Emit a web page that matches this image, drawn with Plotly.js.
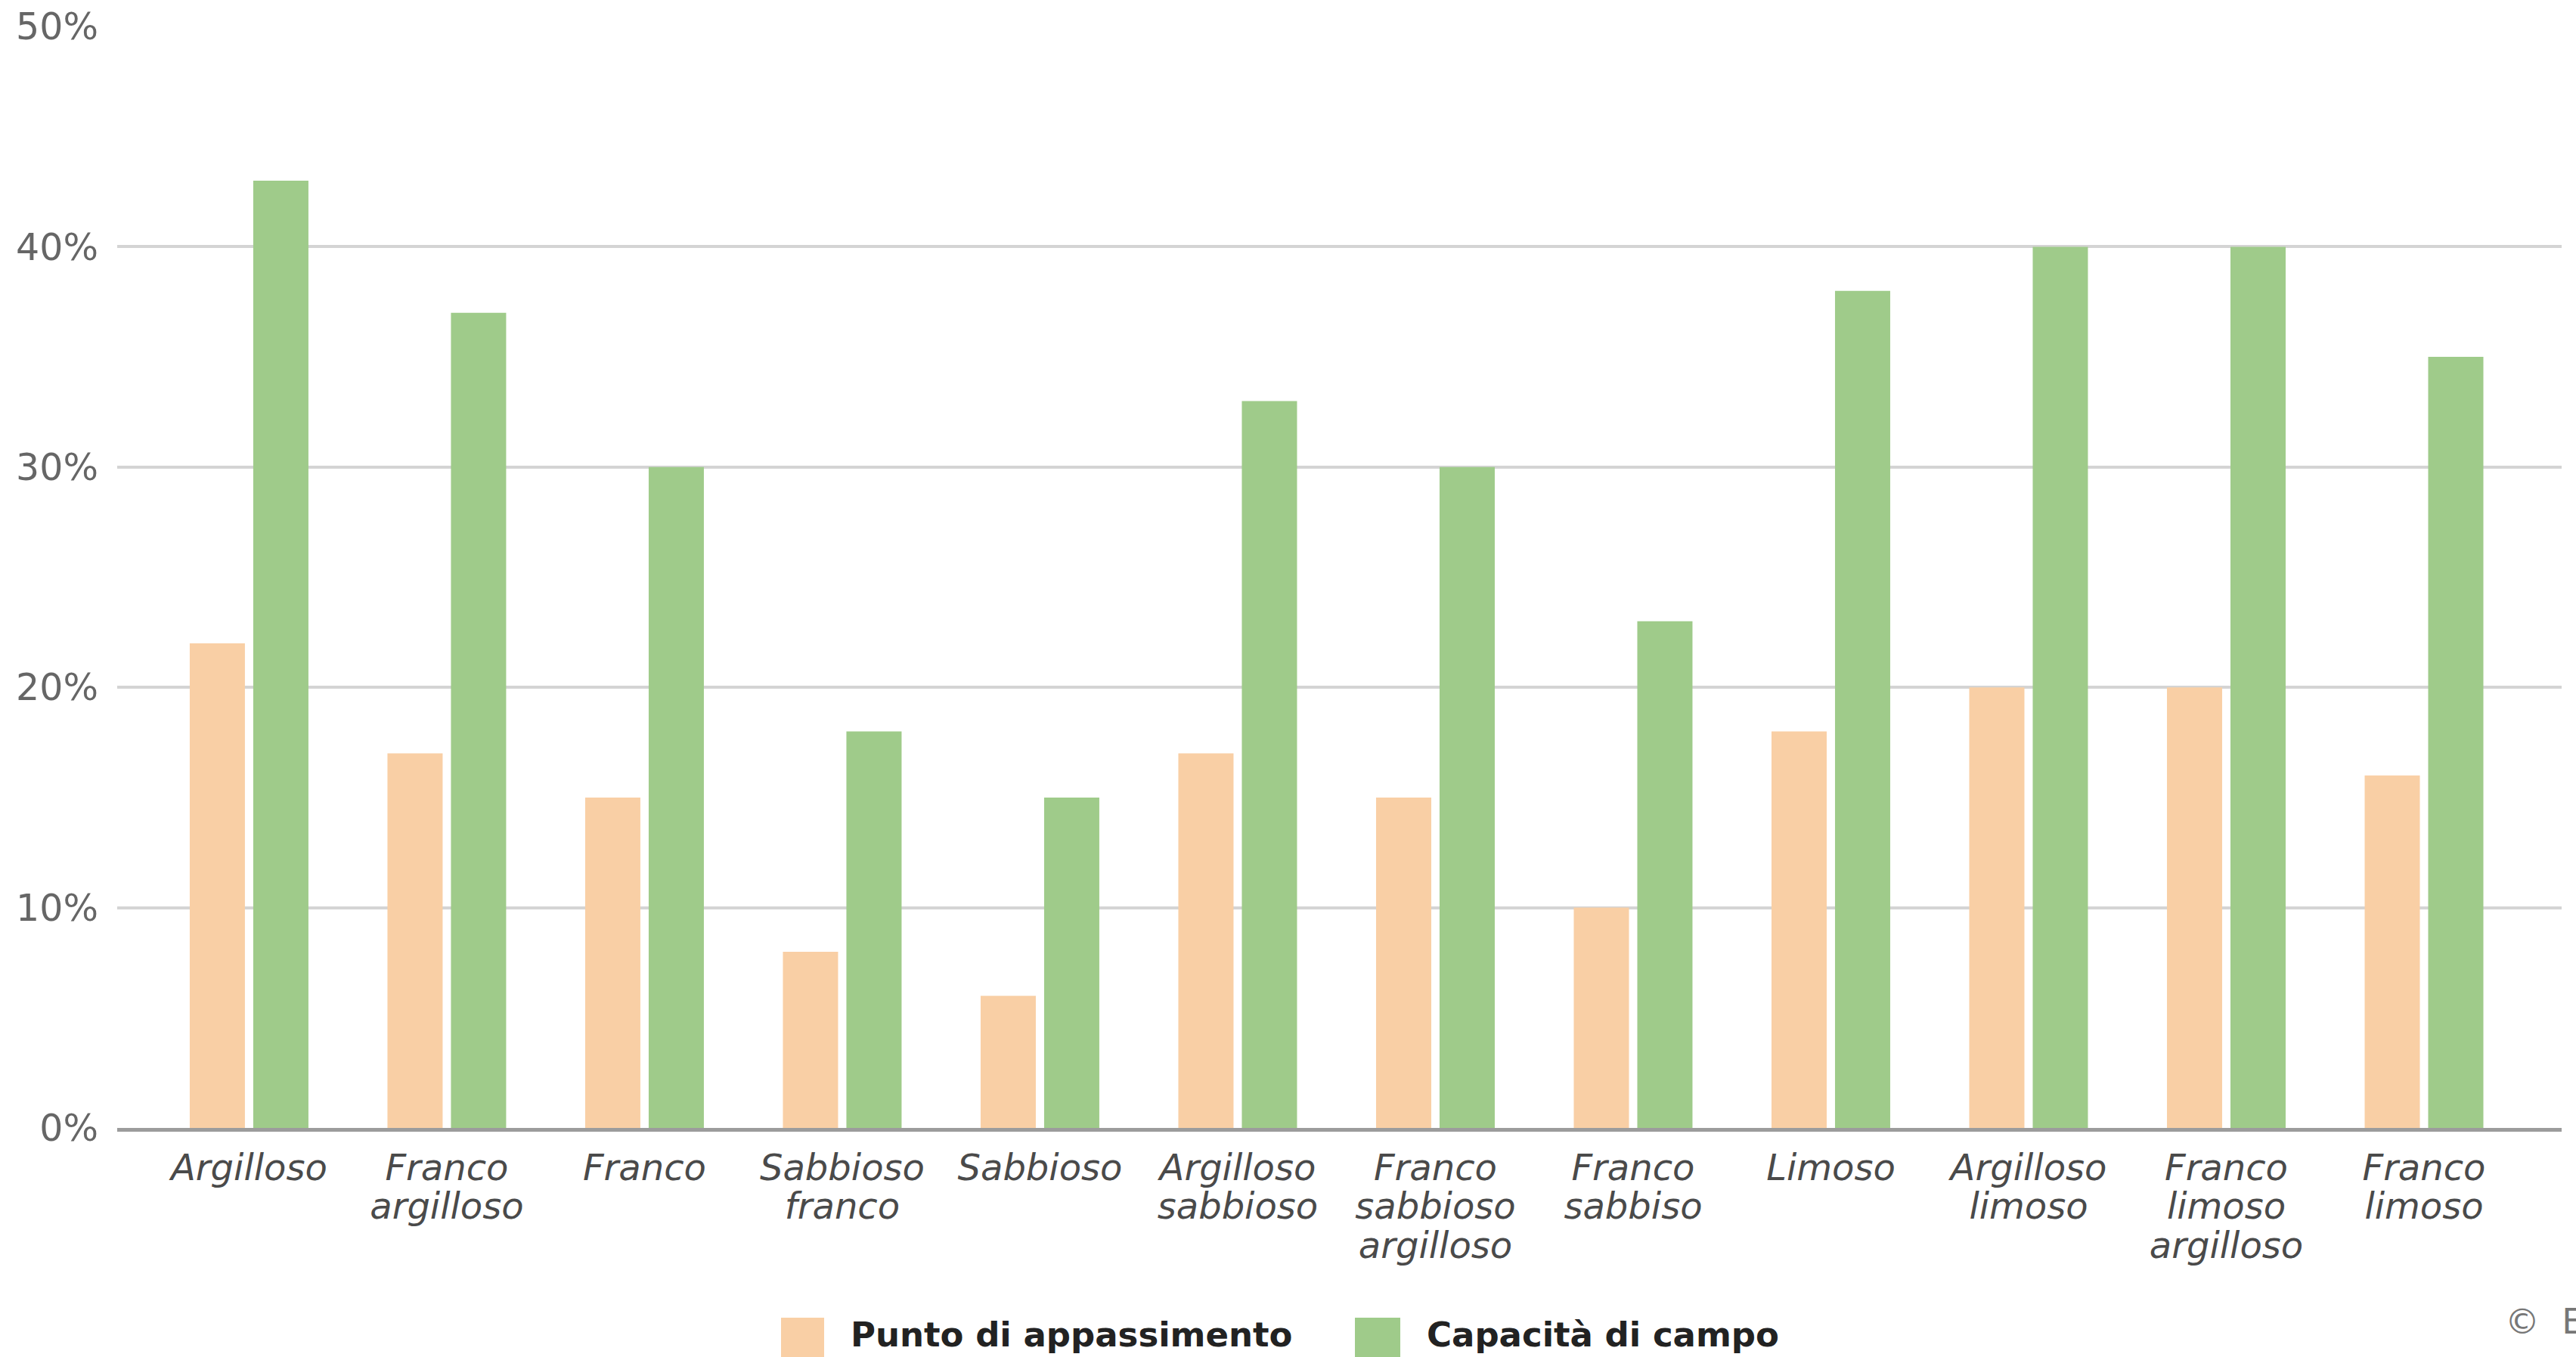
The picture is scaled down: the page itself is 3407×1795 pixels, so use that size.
<!DOCTYPE html>
<html>
<head>
<meta charset="utf-8">
<script src="https://cdn.plot.ly/plotly-3.0.1.min.js"></script>
<style>
  html, body { margin: 0; padding: 0; background: #ffffff; }
  #chart { width: 3407px; height: 1795px; }
</style>
</head>
<body>
<div id="chart"></div>
<script>
// Soil textures (water content, % by volume)
const categories = [
  'Argilloso', 'Franco argilloso', 'Franco', 'Sabbioso franco', 'Sabbioso',
  'Argilloso sabbioso', 'Franco sabbioso argilloso', 'Franco sabbiso', 'Limoso',
  'Argilloso limoso', 'Franco limoso argilloso', 'Franco limoso'
];
const tickLabels = [
  'Argilloso', 'Franco<br>argilloso', 'Franco', 'Sabbioso<br>franco', 'Sabbioso',
  'Argilloso<br>sabbioso', 'Franco<br>sabbioso<br>argilloso', 'Franco<br>sabbiso', 'Limoso',
  'Argilloso<br>limoso', 'Franco<br>limoso<br>argilloso', 'Franco<br>limoso'
];
const puntoAppassimento = [22, 17, 15, 8, 6, 17, 15, 10, 18, 20, 20, 16];
const capacitaCampo     = [43, 37, 30, 18, 15, 33, 30, 23, 38, 40, 40, 35];
const seriesNames = ['Punto di appassimento', 'Capacità di campo'];
const seriesColors = ['#f9cfa5', '#9fcb8a'];
const yTicks = [0, 10, 20, 30, 40, 50];

// page geometry (px)
const W = 3407, H = 1795;
const M = { l: 155, r: 19, t: 35, b: 303 };
const plotW = W - M.l - M.r, plotH = H - M.t - M.b;
const px = x => (x - M.l) / plotW;          // page x -> paper x
const py = y => (H - M.b - y) / plotH;      // page y -> paper y

const FONT = '"DejaVu Sans", Verdana, sans-serif';

const traces = [puntoAppassimento, capacitaCampo].map((vals, i) => ({
  type: 'bar',
  name: seriesNames[i],
  x: categories,
  y: vals,
  marker: { color: seriesColors[i], line: { width: 0 } },
  hoverinfo: 'skip'
}));

// legend drawn as swatches + labels under the chart
const legendItems = [
  { swatch: [1033, 1090], textX: 1123 },
  { swatch: [1792, 1852], textX: 1885 }
];
const shapes = legendItems.map((it, i) => ({
  type: 'rect', xref: 'paper', yref: 'paper',
  x0: px(it.swatch[0]), x1: px(it.swatch[1]),
  y0: py(1743), y1: py(1805),
  fillcolor: seriesColors[i], line: { width: 0 }
}));
const annotations = legendItems.map((it, i) => ({
  xref: 'paper', yref: 'paper',
  x: px(it.textX), y: py(1765),
  xanchor: 'left', yanchor: 'middle',
  text: '<b>' + seriesNames[i] + '</b>',
  showarrow: false,
  font: { family: FONT, size: 45, color: '#222222' }
}));
annotations.push({
  xref: 'paper', yref: 'paper',
  x: px(3311), y: py(1748),
  xanchor: 'left', yanchor: 'middle',
  text: '©\u00a0\u00a0E',
  showarrow: false,
  font: { family: FONT, size: 46, color: '#777777' }
});

const layout = {
  width: W, height: H,
  margin: M,
  paper_bgcolor: '#ffffff',
  plot_bgcolor: '#ffffff',
  showlegend: false,
  barmode: 'group',
  bargap: 0.3576,
  bargroupgap: 0.131,
  font: { family: FONT, size: 48, color: '#555555' },
  xaxis: {
    type: 'category',
    range: [-0.667, 11.696],
    tickmode: 'array',
    tickvals: categories,
    ticktext: tickLabels,
    tickangle: 0,
    ticks: '',
    ticklabelstandoff: 6,
    tickfont: { family: FONT, size: 48, color: '#4a4a4a', style: 'italic' },
    showgrid: false,
    zeroline: false,
    showline: true,
    linecolor: 'rgba(90,90,90,0.6)',
    linewidth: 5,
    layer: 'above traces',
    fixedrange: true
  },
  yaxis: {
    range: [0, 50],
    tickmode: 'array',
    tickvals: yTicks,
    ticktext: yTicks.map(v => v + '%'),
    ticks: '',
    ticklabelstandoff: 24,
    tickfont: { family: FONT, size: 49, color: '#666666' },
    showgrid: true,
    gridcolor: '#d4d4d4',
    gridwidth: 4,
    zeroline: false,
    showline: false,
    fixedrange: true
  },
  shapes: shapes,
  annotations: annotations
};

// tighter line spacing for the wrapped category labels
function tightenTickLines(gd) {
  gd.querySelectorAll('.xtick text tspan.line').forEach(t => {
    const dy = t.getAttribute('dy');
    if (dy && dy.endsWith('em')) {
      const v = parseFloat(dy);
      if (v) t.setAttribute('dy', (v * 1.08 / 1.3).toFixed(3) + 'em');
    }
  });
}

Plotly.newPlot('chart', traces, layout, { staticPlot: true, displayModeBar: false })
  .then(gd => tightenTickLines(gd));
</script>
</body>
</html>
